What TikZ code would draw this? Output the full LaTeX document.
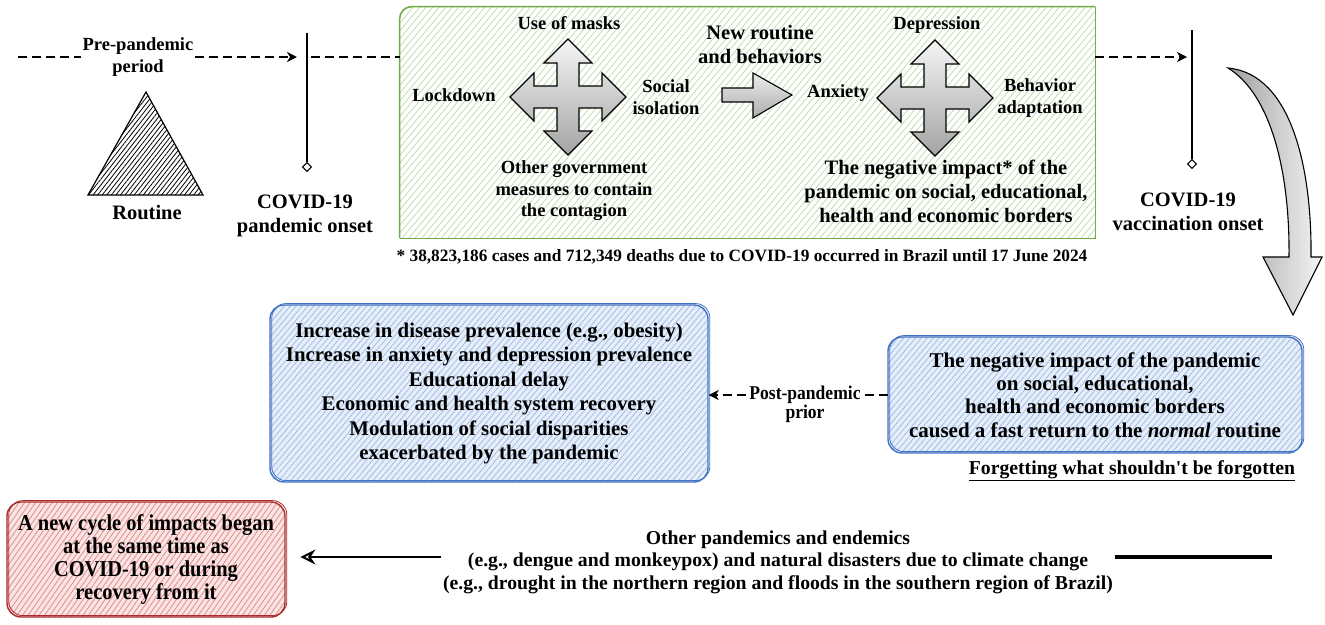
\documentclass[tikz,border=0pt]{standalone}
\usepackage{fontspec}
\setmainfont{Liberation Serif}
\newfontfamily\narrowfont{Liberation Serif}[FakeStretch=0.9]
\usetikzlibrary{calc, arrows.meta, shapes.geometric, patterns.meta}

\definecolor{greenedge}{RGB}{112,173,71}
\definecolor{greenhatch}{RGB}{185,218,165}
\definecolor{blueedge}{RGB}{68,114,196}
\definecolor{bluefill}{RGB}{230,238,249}
\definecolor{bluehatch}{RGB}{155,185,228}
\definecolor{rededge}{RGB}{172,44,44}
\definecolor{redfill}{RGB}{250,228,228}
\definecolor{redhatch}{RGB}{226,140,140}

\newcommand{\fsz}[2]{\fontsize{#1}{#2}\selectfont\bfseries}

\tikzset{
  fourway/.pic={
    \path[crossfill] (0,-58) -- (24,-34) -- (11,-34) -- (11,-11) -- (34,-11) -- (34,-24)
      -- (58,0) -- (34,24) -- (34,11) -- (11,11) -- (11,34) -- (24,34) -- (0,58)
      -- (-24,34) -- (-11,34) -- (-11,11) -- (-34,11) -- (-34,24) -- (-58,0)
      -- (-34,-24) -- (-34,-11) -- (-11,-11) -- (-11,-34) -- (-24,-34) -- cycle;
  }
}

\begin{document}
\begin{tikzpicture}[x=1pt, y=-1pt,
  label/.style={font=\fsz{18.5}{21.5}, align=center, inner sep=1pt},
  bigtext/.style={font=\fsz{20.5}{24}, align=center, inner sep=1pt},
  narrowtext/.style={font=\narrowfont\fsz{22.7}{22.7}, align=center, inner sep=2pt},
  dashline/.style={line width=2.6pt, dash pattern=on 9pt off 5pt},
  dasharrow/.style={dashline, -{Stealth[length=10pt, width=10pt, inset=3pt]}},
  marker/.style={draw, diamond, inner sep=2.3pt, line width=1pt, fill=white},
  crossfill/.style={draw=black, line width=1.1pt, top color=gray!8, bottom color=gray!72},
  sketch/.style={rounded corners=14pt, line width=1.4pt,
    postaction={draw=#1, line width=0.8pt, rounded corners=14pt,
      transform canvas={xshift=1.8pt, yshift=1.4pt}}},
  bluebox/.style={draw=blueedge, sketch=blueedge, preaction={fill=bluefill},
    pattern={Lines[angle=50, distance=4.5pt, line width=0.7pt]}, pattern color=bluehatch},
  redbox/.style={draw=rededge, sketch=rededge, preaction={fill=redfill},
    pattern={Lines[angle=55, distance=4.5pt, line width=0.8pt]}, pattern color=redhatch},
  stagebox/.style={preaction={fill=white},
    pattern={Lines[angle=50, distance=5pt, line width=0.7pt]}, pattern color=greenhatch}]

  \useasboundingbox[fill=white] (0,0) rectangle (1325,624);

  % pre-pandemic timeline
  \coordinate (start) at (18,57);
  \node[label] (pre) at (138,57) {Pre-pandemic\\period};
  \draw[line width=1.2pt, pattern={Lines[angle=52, distance=3.6pt, line width=0.8pt]}]
    (146,92) -- (203,195) -- (88,195) -- cycle;
  \node[bigtext] (routine) at (147,213) {Routine};

  \coordinate (onset) at (307,57);
  \coordinate (onsettop) at (307,33);
  \node[marker] (onsetdot) at (307,167) {};
  \draw[line width=1.4pt] (onsettop) -- (onsetdot);
  \node[bigtext] (onsetlbl) at (305,216) {COVID-19\\pandemic onset};
  \draw[dashline] (start) -- (pre);
  \draw[dasharrow, shorten >=10pt] (pre) -- (onset);

  % pandemic period
  \node[stagebox, minimum width=695, minimum height=231, inner sep=0pt] (stage) at (747.5,122.5) {};
  \draw[greenedge, line width=1.6pt, rounded corners=12pt]
    (stage.south west) -- (stage.north west) -- (stage.north east);
  \draw[greenedge, line width=1.6pt] (stage.north east) -- (stage.south east) -- (stage.south west);
  \draw[dashline, shorten <=4pt] (onset) -- (onset -| stage.west);

  \node[label] (masks) at (569,23) {Use of masks};
  \pic at (568,97) {fourway};
  \node[label] (lockdown) at (454,95) {Lockdown};
  \node[label] (isolation) at (666,97) {Social\\isolation};
  \node[label] (measures) at (574,191) {Other government\\measures to contain\\the contagion};

  \node[bigtext] (newroutine) at (760,44) {New routine\\and behaviors};
  \path[crossfill, top color=gray!15, bottom color=gray!65]
    (722,88) -- (753,88) -- (753,73) -- (792,95) -- (753,118) -- (753,102) -- (722,102) -- cycle;

  \node[label] (anxiety) at (838,93) {Anxiety};
  \pic at (935,98) {fourway};
  \node[label] (depression) at (937,25) {Depression};
  \node[label] (adaptation) at (1040,98) {Behavior\\adaptation};
  \node[bigtext] (impact) at (946,191)
    {The negative impact* of the\\pandemic on social, educational,\\health and economic borders};

  \node[font=\fsz{17.3}{20}, inner sep=1pt] (footnote) at (742,257)
    {* 38,823,186 cases and 712,349 deaths due to COVID-19 occurred in Brazil until 17 June 2024};

  % vaccination
  \coordinate (vacc) at (1192,57);
  \coordinate (vacctop) at (1192,30);
  \node[marker] (vaccdot) at (1192,164) {};
  \draw[line width=1.4pt] (vacctop) -- (vaccdot);
  \draw[dasharrow, shorten >=5pt] (stage.east |- vacc) -- (vacc);
  \node[bigtext] (vacclbl) at (1188,212) {COVID-19\\vaccination onset};

  \path[crossfill, left color=gray!75, right color=gray!8]
    (1228,68) .. controls (1292,74) and (1312,170) .. (1311,257) -- (1322,257) -- (1293,315)
    -- (1263,257) -- (1289,257) .. controls (1290,175) and (1272,95) .. (1228,68) -- cycle;

  % post-pandemic
  \node[bluebox, minimum width=414, minimum height=116, font=\fsz{21}{23.3}, align=center] (return) at (1095,395)
    {The negative impact of the pandemic\\on social, educational,\\health and economic borders\\caused a fast return to the \textit{normal} routine};
  \node[font=\fsz{19.7}{22}, inner sep=2pt] (forget) at (1132,471)
    {\underline{Forgetting what shouldn{\addfontfeatures{Ligatures=TeXOff}'}t be forgotten}};

  \node[bluebox, minimum width=438, minimum height=177, font=\fsz{20.8}{24.5}, align=center] (after) at (489,393.5)
    {Increase in disease prevalence (e.g., obesity)\\Increase in anxiety and depression prevalence\\Educational delay\\Economic and health system recovery\\Modulation of social disparities\\exacerbated by the pandemic};

  \node[narrowtext, font=\narrowfont\fsz{19.5}{19}, inner sep=3pt] (post) at (805,404) {Post-pandemic\\prior};
  \draw[dashline] (return.west) -- (post.east |- return.west);
  \draw[dasharrow] (post.west |- return.west) -- (after.east |- return.west);

  % other events
  \node[redbox, minimum width=278, minimum height=115, narrowtext] (newcycle) at (146,559.5)
    {A new cycle of impacts began\\at the same time as\\COVID-19 or during\\recovery from it};
  \node[font=\fsz{19.7}{22.5}, align=center, inner sep=2pt] (others) at (778,562)
    {Other pandemics and endemics\\(e.g., dengue and monkeypox) and natural disasters due to climate change\\(e.g., drought in the northern region and floods in the southern region of Brazil)};
  \coordinate (tail) at (1272,557);
  \draw[line width=4pt] (tail) -- (others.east |- tail);
  \draw[line width=2pt, -{Stealth[open, length=15pt, width=15pt, inset=5pt]}, shorten >=15pt]
    (others.west |- tail) -- (newcycle.east |- tail);
\end{tikzpicture}
\end{document}
